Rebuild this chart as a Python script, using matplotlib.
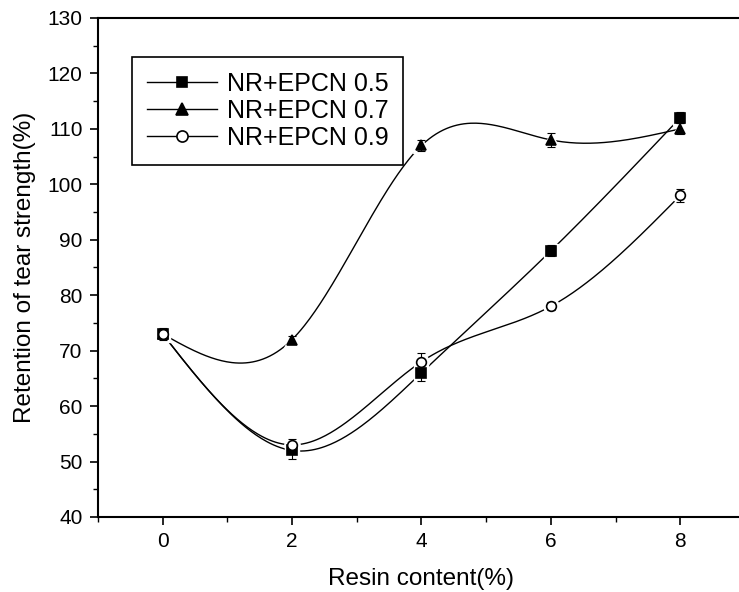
import numpy as np
import matplotlib
matplotlib.use("Agg")
import matplotlib.pyplot as plt
from matplotlib.ticker import MultipleLocator

plt.rcParams['font.family'] = ['Liberation Sans', 'DejaVu Sans']

# dados
resina = [0, 2, 4, 6, 8]
epcn05 = [73, 52, 66, 88, 112]
epcn07 = [73, 72, 107, 108, 110]
epcn09 = [73, 53, 68, 78, 98]
erro05 = [1.0, 1.5, 1.5, 1.0, 1.0]
erro07 = [0.5, 0.7, 1.0, 1.2, 1.0]
erro09 = [0.7, 1.0, 1.5, 0.7, 1.2]
nomes = ['NR+EPCN 0.5', 'NR+EPCN 0.7', 'NR+EPCN 0.9']


# spline cubica natural so para desenhar a curva suave
def spline(x, y, n=300):
    x = np.asarray(x, float)
    y = np.asarray(y, float)
    k = len(x)
    h = np.diff(x)
    A = np.zeros((k, k))
    b = np.zeros(k)
    A[0, 0] = 1
    A[-1, -1] = 1
    for i in range(1, k - 1):
        A[i, i - 1] = h[i - 1]
        A[i, i] = 2 * (h[i - 1] + h[i])
        A[i, i + 1] = h[i]
        b[i] = 6 * ((y[i + 1] - y[i]) / h[i] - (y[i] - y[i - 1]) / h[i - 1])
    M = np.linalg.solve(A, b)
    xs = np.linspace(x[0], x[-1], n)
    ys = np.zeros(n)
    for j, xv in enumerate(xs):
        i = min(np.searchsorted(x, xv, side='right') - 1, k - 2)
        t1 = x[i + 1] - xv
        t2 = xv - x[i]
        ys[j] = (M[i] * t1 ** 3 + M[i + 1] * t2 ** 3) / (6 * h[i]) \
            + (y[i] / h[i] - M[i] * h[i] / 6) * t1 \
            + (y[i + 1] / h[i] - M[i + 1] * h[i] / 6) * t2
    return xs, ys


fig = plt.figure(figsize=(7.39, 5.92), dpi=100)
ax = fig.add_axes([0.1326, 0.1267, 0.8755, 0.843])

series = [(epcn05, erro05, 's', 6.5), (epcn07, erro07, '^', 7.5), (epcn09, erro09, 'o', 7)]

for (vals, err, mk, ms), nome in zip(series, nomes):
    xs, ys = spline(resina, vals)
    ax.plot(xs, ys, color='black', lw=1.0, zorder=2)
    # marcador branco maior para dar o espaco entre linha e ponto
    ax.plot(resina, vals, ls='none', marker=mk, ms=ms + 4, mfc='white', mec='white', zorder=3)
    ax.errorbar(resina, vals, yerr=err, fmt='none', ecolor='black', elinewidth=0.8,
                capsize=3, capthick=0.8, zorder=4)
    face = 'white' if mk == 'o' else 'black'
    ax.plot(resina, vals, ls='none', marker=mk, ms=ms, mfc=face, mec='black', mew=1.2, zorder=5)
    # entrada da legenda
    ax.plot([], [], color='black', lw=1.0, marker=mk, ms=ms + 1, mfc=face, mec='black',
            mew=1.2, label=nome)

ax.set_xlim(-1, 9)
ax.set_ylim(40, 130)
ax.xaxis.set_major_locator(MultipleLocator(2))
ax.xaxis.set_minor_locator(MultipleLocator(1))
ax.yaxis.set_major_locator(MultipleLocator(10))
ax.yaxis.set_minor_locator(MultipleLocator(5))
ax.tick_params(which='major', direction='out', length=6, width=1.2, labelsize=15, pad=5)
ax.tick_params(which='minor', direction='out', length=3.5, width=1)
ax.tick_params(top=False, right=False)
for s in ax.spines.values():
    s.set_linewidth(1.5)

ax.set_xlabel('Resin content(%)', fontsize=17.5, labelpad=12)
ax.set_ylabel('Retention of tear strength(%)', fontsize=17.5, labelpad=8)

leg = ax.legend(loc='upper left', bbox_to_anchor=(0.052, 0.922), fontsize=18,
                handlelength=2.8, handletextpad=0.4, labelspacing=0.12,
                borderpad=0.6, borderaxespad=0, fancybox=False, framealpha=1,
                edgecolor='black')
leg.get_frame().set_linewidth(1.2)

fig.savefig('out.png', dpi=100)
